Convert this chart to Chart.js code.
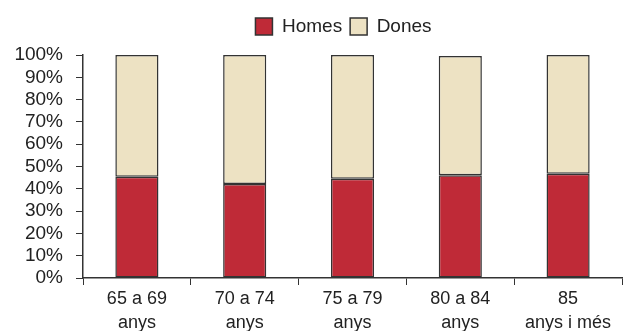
<!DOCTYPE html>
<html>
<head>
<meta charset="utf-8">
<script src="https://cdn.jsdelivr.net/npm/chart.js@4"></script>
<style>
  html, body { margin: 0; padding: 0; background: #fff; }
  #wrap { width: 623px; height: 331px; }
</style>
</head>
<body>
<div id="wrap"><canvas id="chart"></canvas></div>
<script>
const categories = [['65 a 69', 'anys'], ['70 a 74', 'anys'], ['75 a 79', 'anys'], ['80 a 84', 'anys'], ['85', 'anys i més']];
const homes = [45.4, 42.2, 44.5, 46.1, 46.8];
const dones = [54.6, 57.8, 55.5, 53.4, 53.2];
const yTicks = [0, 10, 20, 30, 40, 50, 60, 70, 80, 90, 100];

const FONT = '"Liberation Sans", Arial, sans-serif';
const textColor = '#222';
const lineColor = '#333';

// nudge the legend: centred a bit right of the canvas and closer to the top edge
const legendShift = {
    id: 'legendShift',
    afterLayout(chart) {
        if (!chart.legend) return;
        chart.legend.left = chart.chartArea.left - 18;
        chart.legend.top -= 9;
    }
};

const ctx = document.getElementById('chart').getContext('2d');
new Chart(ctx, {
    type: 'bar',
    data: {
        labels: categories,
        datasets: [{
            label: 'Homes',
            data: homes,
            backgroundColor: '#bf2a37',
            borderColor: lineColor,
            borderWidth: 1.5,
            borderSkipped: false,
            barPercentage: 0.8,
            categoryPercentage: 0.5
        }, {
            label: 'Dones',
            data: dones,
            backgroundColor: '#ede2c3',
            borderColor: lineColor,
            borderWidth: 1.5,
            borderSkipped: false,
            barPercentage: 0.8,
            categoryPercentage: 0.5
        }]
    },
    options: {
        responsive: true,
        maintainAspectRatio: false,
        animation: false,
        layout: { padding: { top: 18, right: 1, left: 0, bottom: 0 } },
        plugins: {
            legend: {
                position: 'top',
                labels: {
                    boxWidth: 17,
                    boxHeight: 17,
                    padding: 8,
                    color: textColor,
                    font: { family: FONT, size: 19 }
                }
            },
            tooltip: { enabled: false }
        },
        scales: {
            x: {
                stacked: true,
                grid: { drawOnChartArea: false, offset: true, tickLength: 7, color: lineColor, lineWidth: 1 },
                border: { color: lineColor, width: 1.5 },
                ticks: { color: textColor, font: { family: FONT, size: 18, lineHeight: 1.35 }, padding: 2, maxRotation: 0, autoSkip: false },
                afterFit(scale) { scale.height = 53; }
            },
            y: {
                stacked: true,
                min: 0,
                max: 100,
                afterBuildTicks(scale) { scale.ticks = yTicks.map(v => ({ value: v })); },
                grid: { drawOnChartArea: false, tickLength: 7, color: lineColor, lineWidth: 1 },
                border: { color: lineColor, width: 1.5 },
                ticks: {
                    color: textColor,
                    font: { family: FONT, size: 19 },
                    padding: 13,
                    autoSkip: false,
                    callback: v => v + '%'
                },
                afterFit(scale) { scale.width = 83; }
            }
        }
    },
    plugins: [legendShift]
});
</script>
</body>
</html>
